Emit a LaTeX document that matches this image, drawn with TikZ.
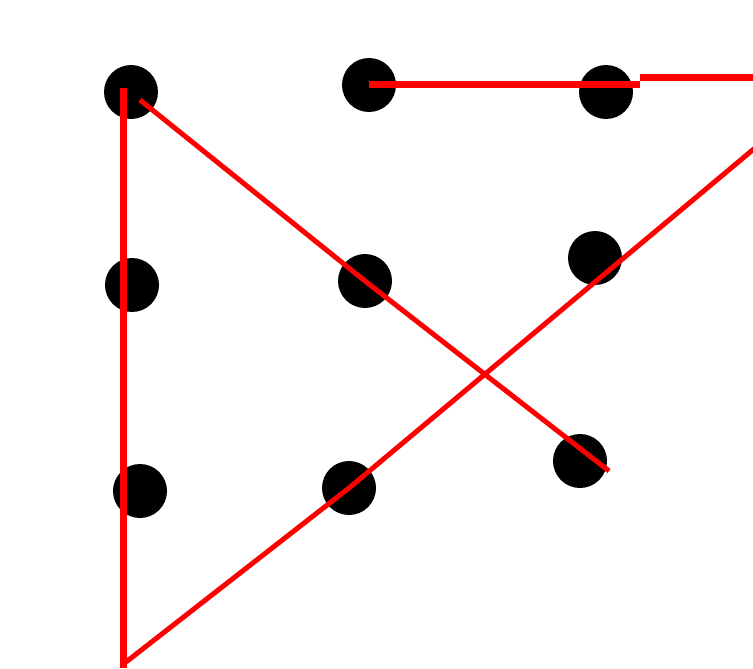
\documentclass[tikz,border=0pt]{standalone}
\usetikzlibrary{positioning}

\begin{document}
\begin{tikzpicture}[
    x=1pt, y=-1pt,
    dot/.style={circle, fill=black, inner sep=0pt, minimum size=54pt},
    thickline/.style={red, line width=7pt},
    thinline/.style={red, line width=5pt}
  ]
    \useasboundingbox (0,0) rectangle (753,669);
    % grid of dots
    \node[dot] (b11) at (131,92) {};
    \node[dot] (b12) at (369,85) {};
    \node[dot] (b13) at (606,92) {};
    \node[dot] (b21) at (132,285) {};
    \node[dot] (b22) at (365,281) {};
    \node[dot] (b23) at (595,258) {};
    \node[dot] (b31) at (140,491) {};
    \node[dot] (b32) at (349,488) {};
    \node[dot] (b33) at (580,461) {};

    % line ends
    \coordinate (top) at (123.5,88);
    \coordinate (corner) at (123.5,668);
    \coordinate (start) at (140,100);
    \coordinate (stop) at (609,471);
    \coordinate (low) at (126,662);
    \coordinate (exit) at (755,148);
    \coordinate (step) at (640,85);
    \coordinate (stepup) at (640,77.5);
    \coordinate (right) at (753,77.5);

    \draw[thickline] (top) -- (corner);
    \draw[thinline] (start) -- (b22.center) -- (stop);
    \draw[thinline] (low) -- (b32.center) -- (exit);
    \draw[thickline] (b12.center) -- (step);
    \draw[thickline] (stepup) -- (right);
  \end{tikzpicture}
\end{document}
